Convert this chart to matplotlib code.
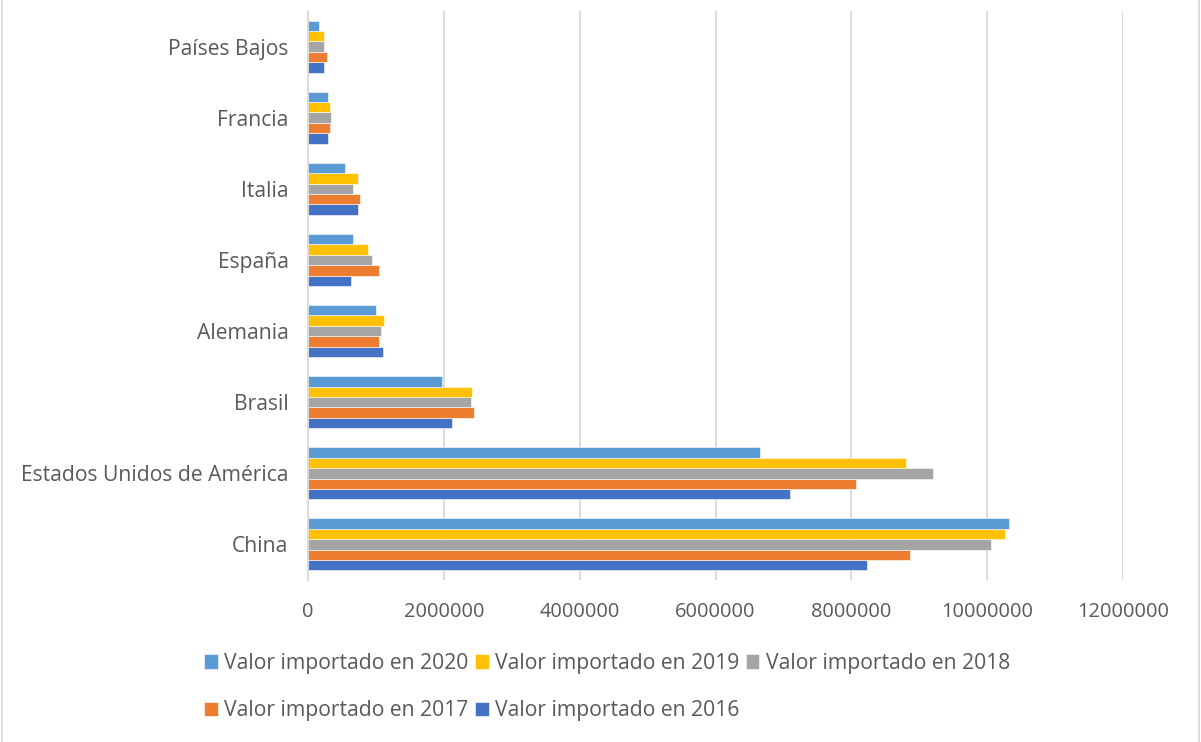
import matplotlib
matplotlib.use("Agg")
import matplotlib.pyplot as plt
from matplotlib.patches import Rectangle
import numpy as np

plt.rcParams['font.family'] = ['Open Sans', 'DejaVu Sans']

# countries, bottom to top as drawn
countries = ['China', 'Estados Unidos de América', 'Brasil', 'Alemania',
             'España', 'Italia', 'Francia', 'Países Bajos']

v2016 = [8233000, 7094000, 2121000, 1110000, 633000, 736000, 300000, 236000]
v2017 = [8860000, 8066000, 2445000, 1051000, 1046000, 766000, 330000, 275000]
v2018 = [10050000, 9205000, 2406000, 1081000, 938000, 668000, 344000, 231000]
v2019 = [10260000, 8810000, 2421000, 1125000, 879000, 732000, 320000, 231000]
v2020 = [10315000, 6657000, 1974000, 997000, 663000, 545000, 290000, 158000]

series = [
    ('Valor importado en 2016', v2016, '#4472C4'),
    ('Valor importado en 2017', v2017, '#ED7D31'),
    ('Valor importado en 2018', v2018, '#A5A5A5'),
    ('Valor importado en 2019', v2019, '#FFC000'),
    ('Valor importado en 2020', v2020, '#5B9BD5'),
]

W, H = 1201, 742
fig = plt.figure(figsize=(W / 100, H / 100), dpi=100)
ax = fig.add_axes([308 / W, 1 - 580 / H, (1123 - 308) / W, (580 - 11) / H])

y = np.arange(len(countries))
h = 0.146
bars = {}
for i, (name, vals, col) in enumerate(series):
    bars[name] = ax.barh(y + (i - 2) * h, vals, height=h, color=col,
                         edgecolor='white', linewidth=0.4, label=name, zorder=3)

ax.set_xlim(0, 12000000)
ax.set_ylim(-0.5, len(countries) - 0.5)
ax.set_xticks(np.arange(0, 12000001, 2000000))
ax.set_xticklabels([str(int(t)) for t in np.arange(0, 12000001, 2000000)])
ax.set_yticks(y)
ax.set_yticklabels(countries)
ax.tick_params(axis='both', length=0, colors='#595959')
ax.tick_params(axis='x', pad=16, labelsize=14.4)
ax.tick_params(axis='y', pad=14, labelsize=15.2)
ax.grid(axis='x', color='#D9D9D9', linewidth=1.3, zorder=0)
for s in ['top', 'right', 'bottom']:
    ax.spines[s].set_visible(False)
ax.spines['left'].set_color('#D9D9D9')
ax.spines['left'].set_linewidth(1.3)
ax.spines['left'].set_zorder(4)

# legend: row-major order 2020, 2019, 2018 / 2017, 2016
order = ['Valor importado en 2020', 'Valor importado en 2017',
         'Valor importado en 2019', 'Valor importado en 2016',
         'Valor importado en 2018']
leg = fig.legend([bars[n] for n in order], order, loc='center',
                 bbox_to_anchor=(607 / W, 1 - 687 / H), ncol=3, frameon=False,
                 fontsize=15.2, handlelength=0.65, handleheight=0.65,
                 handletextpad=0.3, columnspacing=0.3, labelspacing=1.24,
                 labelcolor='#595959')

# light chart-area border
fig.patches.append(Rectangle((2 / W, -0.01), (1197 / W), 1.02, transform=fig.transFigure,
                             fill=False, edgecolor='#D9D9D9', linewidth=1.3))

fig.savefig('out.png', dpi=100, facecolor='white')
